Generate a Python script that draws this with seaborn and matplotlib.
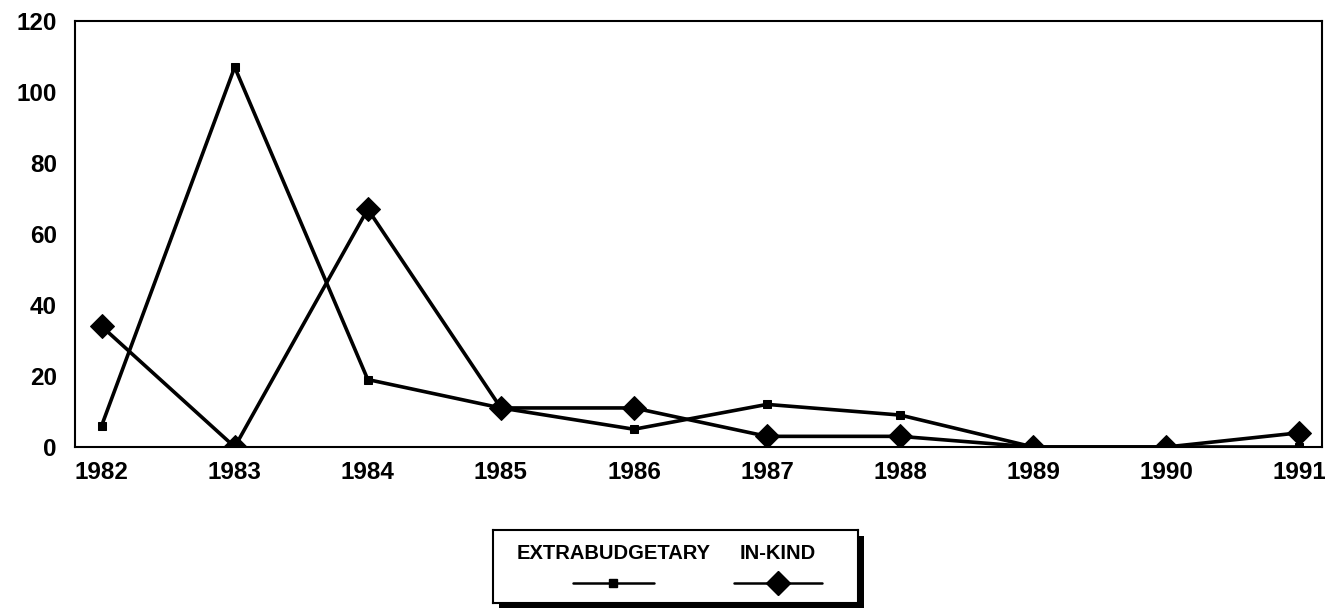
import matplotlib
matplotlib.use("Agg")
import matplotlib.pyplot as plt
from matplotlib.patches import Rectangle
import seaborn as sns
import pandas as pd

years = [1982, 1983, 1984, 1985, 1986, 1987, 1988, 1989, 1990, 1991]
extrabudgetary = [6, 107, 19, 11, 5, 12, 9, 0, 0, 0]
in_kind = [34, 0, 67, 11, 11, 3, 3, 0, 0, 4]
series_names = ["EXTRABUDGETARY", "IN-KIND"]

df = pd.DataFrame({
    "year": years * 2,
    "value": extrabudgetary + in_kind,
    "series": [series_names[0]] * len(years) + [series_names[1]] * len(years),
})

sns.set_theme(style="white")
plt.rcParams["font.family"] = ["Liberation Sans", "DejaVu Sans"]
plt.rcParams["font.weight"] = "bold"
plt.rcParams["text.color"] = "black"
plt.rcParams["xtick.color"] = "black"
plt.rcParams["ytick.color"] = "black"

fig = plt.figure(figsize=(13.25, 6.08), dpi=100)
ax = fig.add_axes([75 / 1325, 161 / 608, 1247 / 1325, 426 / 608])

sns.lineplot(data=df, x="year", y="value", hue="series", style="series",
             palette=["black", "black"], markers={series_names[0]: "s", series_names[1]: "D"},
             dashes=False, linewidth=2.6, markeredgecolor="black", legend=False, ax=ax)
# marker sizes differ per series
for line, ms in zip(ax.lines, [5.5, 12]):
    line.set_markersize(ms)

ax.set_xlim(1981.8, 1991.17)
ax.set_ylim(0, 120)
ax.set_yticks(range(0, 121, 20))
ax.set_xticks(years)
ax.set_xlabel("")
ax.set_ylabel("")
ax.tick_params(axis="both", labelsize=17.5, length=0, labelcolor="black")
ax.tick_params(axis="x", pad=10)
ax.tick_params(axis="y", pad=13)
for lbl in ax.get_xticklabels() + ax.get_yticklabels():
    lbl.set_fontweight("bold")
for sp in ax.spines.values():
    sp.set_color("black")
    sp.set_linewidth(1.5)

# legend box: labels above handles, with drop shadow
lx, ly, lw, lh = 493 / 1325, 5 / 608, 365 / 1325, 73 / 608
fig.patches.append(Rectangle((lx + 6 / 1325, ly - 6 / 608), lw, lh, transform=fig.transFigure,
                             facecolor="black", edgecolor="none", zorder=1))
lax = fig.add_axes([lx, ly, lw, lh], zorder=2)
lax.set_xlim(0, 1)
lax.set_ylim(0, 1)
lax.set_xticks([])
lax.set_yticks([])
lax.set_facecolor("white")
for sp in lax.spines.values():
    sp.set_color("black")
    sp.set_linewidth(1.5)
lax.text(0.33, 0.68, series_names[0], ha="center", va="center", fontsize=14.5, fontweight="bold")
lax.text(0.78, 0.68, series_names[1], ha="center", va="center", fontsize=14.5, fontweight="bold")
lax.plot([0.22, 0.33, 0.44], [0.28, 0.28, 0.28], color="black", linewidth=1.8,
         marker="s", markersize=6, markevery=[1])
lax.plot([0.66, 0.78, 0.90], [0.28, 0.28, 0.28], color="black", linewidth=1.8,
         marker="D", markersize=12, markevery=[1])

fig.savefig("out.png", dpi=100)
